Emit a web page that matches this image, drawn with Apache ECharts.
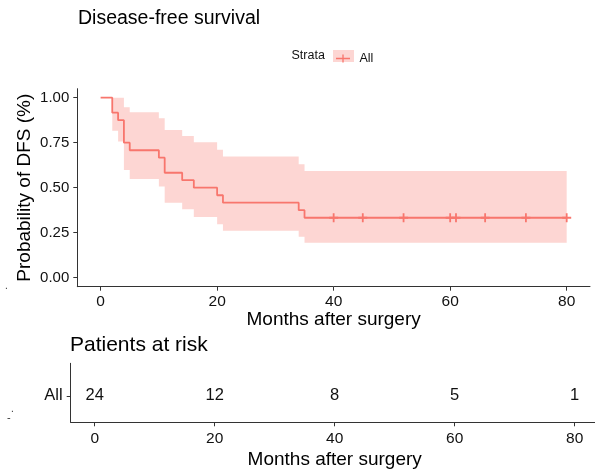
<!DOCTYPE html>
<html><head><meta charset="utf-8">
<script src="https://cdn.jsdelivr.net/npm/echarts@6/dist/echarts.min.js"></script>
<style>html,body{margin:0;padding:0;background:#fff}#c{width:595px;height:471px}</style>
</head><body><div id="c"></div>
<script>
// Kaplan-Meier estimate (months, survival probability)
const kmTimes = [0, 2, 3, 4, 5, 10, 11, 14, 16, 20, 21, 34, 35, 80];
const kmSurv  = [1, 0.917, 0.875, 0.75, 0.708, 0.667, 0.583, 0.542, 0.5, 0.458, 0.417, 0.375, 0.333, 0.333];
// 95% confidence band
const ciUpper = [1, 1, 1, 0.947, 0.919, 0.886, 0.82, 0.787, 0.752, 0.711, 0.674, 0.63, 0.593, 0.593];
const ciLower = [1, 0.817, 0.756, 0.598, 0.548, 0.506, 0.417, 0.38, 0.337, 0.297, 0.261, 0.228, 0.194, 0.194];
// censoring marks
const censorTimes = [40, 45, 52, 60, 61, 66, 73, 80];
const censorSurv  = [0.333, 0.333, 0.333, 0.333, 0.333, 0.333, 0.333, 0.333];
// risk table
const riskStrata = 'All';
const riskTimes  = [0, 20, 40, 60, 80];
const riskCounts = [24, 12, 8, 5, 1];
// ticks
const xTicks = [0, 20, 40, 60, 80];
const yTicks = [0, 0.25, 0.5, 0.75, 1];
const yTickLabels = ['0.00', '0.25', '0.50', '0.75', '1.00'];

const RED = '#F8766D';
const FONT = '"Liberation Sans", Arial, sans-serif';
const TXT = '#111';
const riskRow = 0.45;

const chart = echarts.init(document.getElementById('c'), null, {renderer: 'canvas'});

const axisLine = {show: true, onZero: false, lineStyle: {color: '#333', width: 1}};
const axisTick = {show: true, length: 4, lineStyle: {color: '#333', width: 1}};

function stepPoints(api, xs, ys) {
  const pts = [];
  for (let i = 0; i < xs.length; i++) {
    pts.push(api.coord([xs[i], ys[i]]));
    if (i + 1 < xs.length) pts.push(api.coord([xs[i + 1], ys[i]]));
  }
  return pts;
}

const option = {
  animation: false,
  backgroundColor: '#fff',
  textStyle: {fontFamily: FONT},
  title: [
    {text: 'Disease-free survival', left: 78, top: 9, padding: 0,
     textStyle: {fontSize: 19.5, fontWeight: 'normal', color: '#000', fontFamily: FONT}},
    {text: 'Patients at risk', left: 70, top: 335, padding: 0,
     textStyle: {fontSize: 21, fontWeight: 'normal', color: '#000', fontFamily: FONT}}
  ],
  legend: {
    left: 336, top: 52, itemWidth: 17, itemHeight: 8, padding: 0,
    data: [{name: 'All', icon: 'path://M0,5H21V7H0Z M9.5,0H11.5V12H9.5Z'}],
    textStyle: {fontSize: 12.5, color: TXT, fontFamily: FONT, padding: [0, 0, 0, 3]},
    selectedMode: false
  },
  graphic: [
    {type: 'rect', shape: {x: 333, y: 50, width: 21, height: 12}, style: {fill: 'rgba(248,118,109,0.3)'}, z: 0},
    {type: 'text', x: 291.5, y: 56, style: {text: 'Strata', fontSize: 12.5, fill: TXT, fontFamily: FONT, verticalAlign: 'middle'}},
    {type: 'text', x: 5, y: 281, style: {text: '.', fontSize: 10, fill: '#333', fontFamily: FONT}},
    {type: 'text', x: 11, y: 404, style: {text: '.', fontSize: 10, fill: '#333', fontFamily: FONT}},
    {type: 'text', x: 7, y: 412, style: {text: '-', fontSize: 11, fill: '#333', fontFamily: FONT}}
  ],
  grid: [
    {left: 77.3, top: 88.7, width: 512.7, height: 198, outerBoundsMode: 'none', containLabel: false},
    {left: 70.7, top: 363.3, width: 528, height: 59, outerBoundsMode: 'none', containLabel: false}
  ],
  xAxis: [
    {type: 'value', gridIndex: 0, min: -4, max: 84,
     axisLine: axisLine, axisTick: Object.assign({customValues: xTicks}, axisTick),
     axisLabel: {customValues: xTicks, fontSize: 15.5, color: TXT, margin: 7, fontFamily: FONT},
     splitLine: {show: false},
     name: 'Months after surgery', nameLocation: 'middle', nameGap: 24, nameMoveOverlap: false,
     nameTextStyle: {fontSize: 19, color: '#000', fontFamily: FONT}},
    {type: 'value', gridIndex: 1, min: -4, max: 84,
     axisLine: axisLine, axisTick: Object.assign({customValues: xTicks}, axisTick),
     axisLabel: {customValues: xTicks, fontSize: 15.5, color: TXT, margin: 8.5, fontFamily: FONT},
     splitLine: {show: false},
     name: 'Months after surgery', nameLocation: 'middle', nameGap: 27.5, nameMoveOverlap: false,
     nameTextStyle: {fontSize: 19, color: '#000', fontFamily: FONT}}
  ],
  yAxis: [
    {type: 'value', gridIndex: 0, min: -0.05, max: 1.05,
     axisLine: axisLine, axisTick: Object.assign({customValues: yTicks}, axisTick),
     axisLabel: {customValues: yTicks, fontSize: 15, color: TXT, margin: 8,
       fontFamily: FONT,
       formatter: v => { const i = yTicks.findIndex(t => Math.abs(t - v) < 1e-9); return i >= 0 ? yTickLabels[i] : ''; }},
     splitLine: {show: false},
     name: 'Probability of DFS (%)', nameLocation: 'middle', nameGap: 43, nameMoveOverlap: false,
     nameTextStyle: {fontSize: 19, color: '#000', fontFamily: FONT}},
    {type: 'value', gridIndex: 1, min: 0, max: 1,
     axisLine: axisLine, axisTick: Object.assign({customValues: [riskRow]}, axisTick),
     axisLabel: {customValues: [riskRow], fontSize: 16.5, color: TXT, margin: 8, fontFamily: FONT,
       formatter: () => riskStrata},
     splitLine: {show: false}}
  ],
  series: [
    {type: 'custom', name: 'ci', xAxisIndex: 0, yAxisIndex: 0, silent: true, z: 1,
     data: [[0, 0]],
     renderItem: (params, api) => {
       const top = stepPoints(api, kmTimes, ciUpper);
       const bot = stepPoints(api, kmTimes, ciLower).reverse();
       return {type: 'polygon', shape: {points: top.concat(bot)},
               style: {fill: 'rgba(248,118,109,0.3)'}};
     }},
    {type: 'line', name: 'All', xAxisIndex: 0, yAxisIndex: 0, step: 'end',
     symbol: 'none', itemStyle: {color: RED}, lineStyle: {color: RED, width: 1.8},
     data: kmTimes.map((t, i) => [t, kmSurv[i]]), z: 3},
    {type: 'scatter', name: 'censor', xAxisIndex: 0, yAxisIndex: 0,
     symbol: 'path://M0,4H10V6H0Z M4,0H6V10H4Z', symbolSize: 9,
     itemStyle: {color: RED, opacity: 1}, z: 4,
     data: censorTimes.map((t, i) => [t, censorSurv[i]])},
    {type: 'scatter', name: 'risk', xAxisIndex: 1, yAxisIndex: 1,
     symbolSize: 1, itemStyle: {color: 'rgba(0,0,0,0)', opacity: 1},
     label: {show: true, position: 'inside', formatter: p => String(p.value[2]),
       fontSize: 16.5, color: TXT, fontFamily: FONT, textBorderWidth: 0, textBorderColor: 'transparent'},
     data: riskTimes.map((t, i) => [t, riskRow, riskCounts[i]])}
  ]
};
chart.setOption(option);
</script></body></html>
